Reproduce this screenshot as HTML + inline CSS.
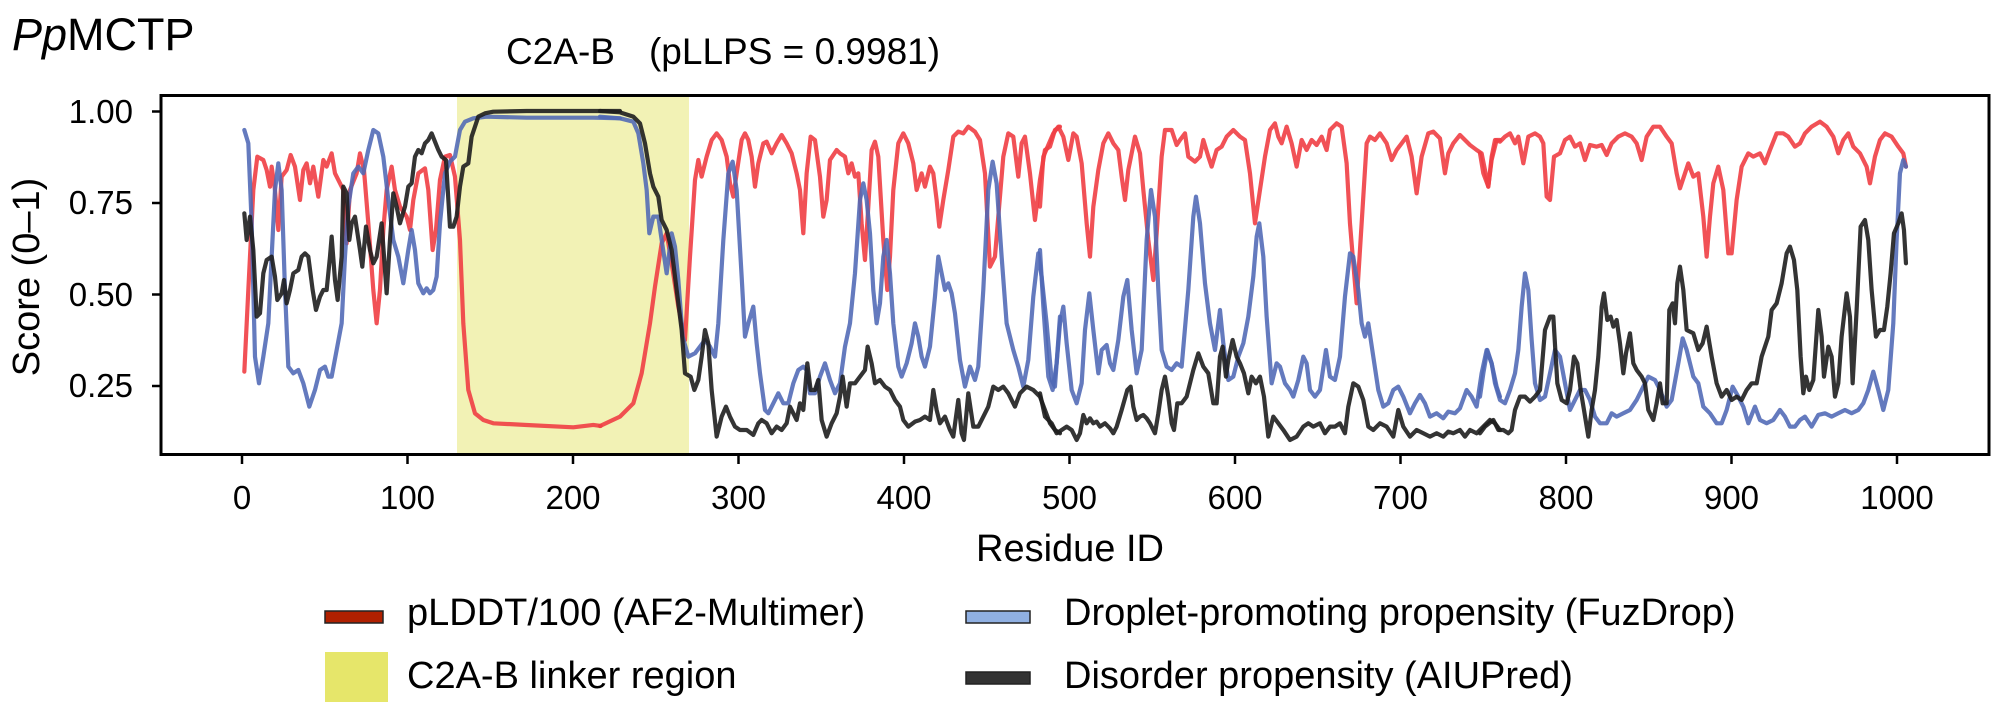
<!DOCTYPE html>
<html><head><meta charset="utf-8"><style>
html,body{margin:0;padding:0;background:#fff;}
svg{display:block;font-family:"Liberation Sans",Arial,sans-serif;}
.l{fill:none;stroke-width:4.2;stroke-linejoin:round;stroke-linecap:round;vector-effect:non-scaling-stroke;}
</style></head><body>
<svg width="2000" height="716" viewBox="0 0 2000 716" xmlns="http://www.w3.org/2000/svg">
<text x="12" y="50" font-size="45"><tspan font-style="italic">Pp</tspan>MCTP</text>
<text x="506" y="64" font-size="37">C2A-B<tspan dx="34">(pLLPS = 0.9981)</tspan></text>
<rect x="457" y="96" width="232" height="358" fill="#f2f2b5"/>
<defs><clipPath id="c"><rect x="162" y="96" width="1827" height="358"/></clipPath></defs>
<g clip-path="url(#c)">
<!-- red -->
<g transform="translate(160,90) scale(0.3333)" ><polyline class="l" stroke="#ef3e44" stroke-opacity="0.9" points="253,845 265,600 280,300 292,200 310,210 320,240 330,290 335,230 345,300 355,420 365,260 380,240 392,195 405,230 420,330 430,240 440,220 450,280 460,230 475,320 490,210 500,230 515,190 525,250 535,270 550,300 560,460 570,300 590,250 600,190 612,240 625,400 640,600 650,700 660,600 670,420 680,300 695,230 705,300 720,350 740,380 750,420 760,330 775,250 795,235 805,300 818,480 828,420 840,270 855,200 870,195 885,260 900,450 910,700 925,900 945,970 970,990 1000,1000 1100,1005 1240,1012 1300,1005 1322,1008"/></g>
<g transform="translate(600,90) scale(0.3333)"><polyline class="l" stroke="#ef3e44" stroke-opacity="0.9" points="0,1008 60,980 100,940 125,850 150,700 165,590 185,460 200,430 215,520 235,650 255,750 270,500 285,270 295,210 305,260 320,200 335,150 350,130 365,150 380,200 390,280 400,320 410,250 425,150 435,130 445,150 455,200 465,290 475,220 490,160 500,155 515,190 530,160 545,135 560,160 575,190 590,250 600,300 610,430 620,250 632,140 645,150 660,260 670,380 680,330 690,210 710,180 720,190 735,200 745,250 755,220 765,260 775,250 785,400 795,510 805,350 815,180 825,155 835,200 850,450 862,600 870,500 880,300 895,160 910,130 925,160 940,220 950,300 965,250 975,290 990,230 1000,250 1010,330 1018,410 1030,330 1045,240 1060,140 1075,125 1090,130 1105,110 1125,125 1140,150 1155,250 1170,530 1185,500 1195,380 1210,200 1225,130 1240,140 1255,260 1265,160 1275,140 1290,250 1305,390 1320,270 1335,180 1350,170 1365,120 1380,110"/></g>
<g transform="translate(1040,90) scale(0.3333)"><polyline class="l" stroke="#ef3e44" stroke-opacity="0.9" points="0,350 10,200 25,165 40,130 55,110 70,140 85,210 100,130 110,140 125,220 140,400 150,500 160,350 175,240 190,160 205,130 220,160 235,180 245,260 255,330 265,240 285,140 300,190 310,300 325,450 340,570 350,430 365,200 375,120 395,120 410,165 420,150 435,130 445,200 465,215 480,200 490,150 505,200 515,230 530,180 545,170 560,140 580,120 600,140 615,150 630,250 645,400 660,300 675,200 690,120 705,100 715,140 725,160 740,110 755,160 770,230 785,150 800,180 815,150 830,165 845,140 860,180 870,120 890,100 905,110 920,220 930,400 950,640 965,400 980,160 990,140 1005,150 1020,130 1040,160 1055,210 1070,180 1085,160 1100,140 1115,200 1130,310 1145,200 1165,130 1180,125 1200,145 1215,250 1225,190 1240,160 1260,135 1275,150 1290,165 1310,180 1325,190 1345,290 1355,210 1370,150 1380,150"/></g>
<g transform="translate(1480,90) scale(0.3333)"><polyline class="l" stroke="#ef3e44" stroke-opacity="0.9" points="0,190 10,250 25,290 35,200 45,150 60,155 75,140 90,130 105,160 115,140 130,220 145,140 165,130 180,140 190,160 200,320 210,330 222,200 240,190 255,150 270,140 285,170 300,160 315,210 330,165 350,170 365,165 380,195 395,160 415,140 435,130 455,140 470,160 485,210 500,140 520,110 540,110 560,140 575,160 590,250 600,295 615,250 625,220 640,260 655,250 670,380 680,500 690,380 700,280 715,230 730,300 745,490 755,490 770,330 785,230 805,190 820,200 840,190 855,220 870,180 890,130 910,130 925,140 945,170 960,160 975,130 995,110 1020,95 1040,110 1060,140 1075,190 1090,150 1105,130 1120,170 1140,190 1160,230 1170,280 1185,200 1200,150 1215,130 1235,140 1255,170 1270,190 1278,230"/></g>
<!-- blue -->
<g transform="translate(160,90) scale(0.3333)"><polyline class="l" stroke="#4e68b5" stroke-opacity="0.88" points="253,120 265,160 275,400 285,800 297,880 310,800 325,700 335,500 345,300 355,220 365,300 375,600 385,830 400,850 415,840 430,880 448,950 465,900 480,840 495,830 505,860 515,860 530,780 545,700 555,500 565,350 580,250 595,230 610,250 625,180 640,120 655,130 670,200 685,330 700,450 715,500 730,580 745,480 755,420 765,480 775,580 790,610 800,595 810,610 820,600 830,560 840,400 855,250 870,215 885,200 900,120 915,95 940,85 980,80 1100,83 1300,83 1380,85"/></g>
<g transform="translate(600,90) scale(0.3333)"><polyline class="l" stroke="#4e68b5" stroke-opacity="0.88" points="0,80 60,85 100,95 115,130 130,220 140,300 148,430 160,380 175,380 185,450 200,550 215,430 225,470 235,570 248,740 265,800 285,790 300,770 315,750 330,770 345,800 355,700 370,450 385,250 398,215 410,300 425,560 435,740 445,700 460,650 470,760 480,850 495,960 505,970 520,940 535,910 550,940 565,940 580,880 595,840 610,830 620,840 630,910 645,910 660,860 675,820 690,870 705,910 720,880 735,770 750,700 765,550 780,330 790,280 800,330 810,430 820,600 830,700 840,640 850,500 860,450 870,550 880,700 895,830 905,860 920,820 935,760 945,700 955,740 965,800 975,830 990,770 1005,620 1015,500 1025,550 1035,600 1045,580 1055,610 1065,670 1080,810 1095,890 1110,830 1125,870 1135,830 1150,600 1165,300 1178,215 1190,280 1205,500 1220,700 1240,780 1255,830 1270,890 1285,810 1300,620 1315,490 1325,560 1340,700 1355,870 1365,890 1380,680"/></g>
<g transform="translate(1040,90) scale(0.3333)"><polyline class="l" stroke="#4e68b5" stroke-opacity="0.88" points="0,480 10,650 25,860 38,900 50,820 60,700 70,650 80,760 95,900 110,940 125,880 135,720 148,610 160,720 175,850 185,780 200,765 210,820 220,840 235,750 250,620 262,570 275,720 290,850 305,780 320,450 333,300 345,380 355,600 365,780 380,830 395,840 410,820 425,830 445,600 460,380 468,320 480,400 495,580 510,700 525,780 540,660 550,760 565,870 580,860 595,800 610,760 625,680 640,560 650,440 658,400 670,500 680,680 695,880 710,820 720,830 735,880 750,900 760,920 775,870 790,800 800,820 810,900 825,920 840,900 858,780 870,860 885,870 900,800 915,620 930,490 940,500 955,600 965,700 975,740 985,700 1000,800 1015,900 1030,950 1045,940 1060,900 1075,890 1090,920 1110,970 1125,940 1140,915 1155,940 1170,980 1190,970 1210,985 1225,965 1245,970 1260,955 1280,900 1295,920 1310,950 1325,850 1340,780 1355,820 1370,890 1380,920"/></g>
<g transform="translate(1480,90) scale(0.3333)"><polyline class="l" stroke="#4e68b5" stroke-opacity="0.88" points="0,920 10,850 22,780 35,820 45,880 60,930 75,940 90,900 105,850 115,780 125,650 135,550 145,600 155,750 165,880 180,930 195,920 210,850 225,780 240,800 255,880 270,960 285,930 300,900 315,900 330,930 345,980 360,1000 380,1000 395,970 410,980 430,970 450,960 470,930 485,900 505,860 525,870 540,900 560,950 575,930 595,820 608,745 620,780 640,860 655,880 670,950 690,970 710,1000 725,1000 740,960 758,890 775,920 790,950 805,1000 825,950 840,990 860,1000 880,990 900,960 915,980 930,1010 945,1010 960,990 975,980 995,1010 1015,975 1035,970 1055,980 1075,970 1095,960 1115,970 1135,960 1150,940 1165,900 1180,845 1195,900 1210,960 1225,900 1240,700 1250,450 1260,250 1270,210 1278,230"/></g>
<!-- black -->
<g transform="translate(160,90) scale(0.3333)"><polyline class="l" stroke="#1e1e1e" stroke-opacity="0.9" points="253,370 260,450 270,380 280,480 290,680 300,670 310,550 320,510 335,500 345,560 352,630 365,610 372,570 380,640 390,600 400,550 415,540 425,500 435,490 445,500 458,600 468,660 480,620 490,600 500,600 510,500 515,440 525,570 533,630 545,500 550,290 560,310 568,450 575,400 585,380 600,480 607,530 618,410 630,480 640,520 650,500 665,400 680,610 690,450 700,310 710,350 720,400 735,350 745,290 755,280 765,200 775,180 785,190 795,160 805,150 815,130 825,155 835,180 845,200 858,210 870,410 880,410 890,380 900,290 910,230 925,220 935,140 945,110 955,80 975,70 1000,65 1100,63 1300,63 1380,63"/></g>
<g transform="translate(600,90) scale(0.3333)"><polyline class="l" stroke="#1e1e1e" stroke-opacity="0.9" points="0,63 60,67 100,80 120,100 135,160 150,250 160,290 175,320 185,390 200,420 215,480 230,600 245,720 255,850 272,860 283,900 295,870 305,800 315,720 325,760 335,900 350,1040 365,980 378,950 390,980 405,1010 420,1020 440,1020 460,1035 475,1000 485,990 500,1000 515,1030 530,1010 545,1020 560,1000 570,950 580,970 590,990 600,940 610,960 622,820 632,900 645,900 655,870 665,990 680,1040 695,1000 710,970 720,920 728,860 740,950 750,880 765,880 780,860 795,840 803,770 815,820 825,880 840,870 855,890 870,900 885,930 900,950 910,990 925,1010 945,995 960,990 975,980 990,990 1000,900 1010,960 1020,1000 1035,980 1050,1020 1060,1040 1075,930 1085,1030 1092,1050 1105,910 1120,1010 1135,1010 1150,980 1165,950 1180,890 1195,900 1210,890 1225,910 1245,950 1260,910 1280,890 1300,900 1320,920 1335,960 1350,1000 1365,1020 1380,1030"/></g>
<g transform="translate(1040,90) scale(0.3333)"><polyline class="l" stroke="#1e1e1e" stroke-opacity="0.9" points="0,910 15,980 35,1000 50,1030 65,1020 80,1010 95,1020 110,1050 120,1030 130,975 140,1000 150,985 160,1000 170,995 180,1010 195,1000 210,1015 220,1030 230,1010 245,960 262,900 272,890 280,950 290,990 300,980 310,975 320,985 330,1000 345,1030 355,970 365,900 375,860 385,920 395,1000 402,1020 412,940 425,940 440,920 460,840 475,790 490,830 505,850 520,940 530,940 540,800 548,770 558,860 565,810 578,750 590,800 600,820 612,850 625,910 635,860 648,880 660,860 672,920 685,1040 700,980 715,1000 730,1020 750,1050 770,1040 790,1010 805,1000 820,1010 840,1000 855,1030 870,1010 885,1010 900,1000 915,1030 925,950 940,880 955,890 970,930 985,1010 1000,1020 1020,1000 1040,1010 1060,1040 1075,960 1090,1010 1110,1040 1130,1020 1150,1030 1170,1040 1190,1030 1210,1040 1225,1025 1240,1030 1260,1020 1275,1040 1290,1020 1310,1030 1330,1010 1350,990 1365,1000 1380,1020"/></g>
<g transform="translate(1480,90) scale(0.3333)"><polyline class="l" stroke="#1e1e1e" stroke-opacity="0.9" points="0,1030 15,1010 40,990 55,1020 70,1020 85,1030 95,1020 105,960 120,920 135,920 150,935 165,920 180,900 195,720 210,680 220,680 232,880 245,930 260,940 270,900 282,800 292,820 302,900 312,960 325,1040 335,960 345,900 355,800 365,650 372,610 382,690 392,680 400,710 410,690 420,760 430,850 438,790 450,730 460,820 470,840 485,860 495,880 505,960 520,990 530,940 540,880 548,940 560,940 568,660 578,640 585,700 592,580 600,530 610,600 620,720 640,730 655,780 668,760 680,710 695,800 710,880 725,920 740,900 755,930 770,920 785,930 800,900 815,880 830,880 845,800 855,770 865,740 875,660 890,640 905,580 920,490 930,470 942,510 952,600 962,800 970,910 978,860 988,900 1000,870 1015,660 1025,740 1032,860 1045,770 1055,800 1065,920 1075,880 1085,740 1100,610 1110,680 1118,880 1130,660 1142,410 1155,390 1165,450 1175,600 1188,740 1200,720 1212,720 1222,650 1232,550 1242,430 1255,400 1265,370 1272,420 1278,520"/></g>
</g>
<rect x="161" y="95.5" width="1828" height="359" fill="none" stroke="#000" stroke-width="3"/>
<g stroke="#000" stroke-width="2.5">
<line x1="152" y1="111.5" x2="161" y2="111.5"/><line x1="152" y1="203" x2="161" y2="203"/><line x1="152" y1="294.5" x2="161" y2="294.5"/><line x1="152" y1="386" x2="161" y2="386"/>
<line x1="242" y1="455" x2="242" y2="464"/><line x1="407.5" y1="455" x2="407.5" y2="464"/><line x1="573" y1="455" x2="573" y2="464"/><line x1="738.5" y1="455" x2="738.5" y2="464"/><line x1="904" y1="455" x2="904" y2="464"/><line x1="1069.5" y1="455" x2="1069.5" y2="464"/><line x1="1235" y1="455" x2="1235" y2="464"/><line x1="1400.5" y1="455" x2="1400.5" y2="464"/><line x1="1566" y1="455" x2="1566" y2="464"/><line x1="1731.5" y1="455" x2="1731.5" y2="464"/><line x1="1897" y1="455" x2="1897" y2="464"/>
</g>
<g font-size="33" text-anchor="end">
<text x="133" y="123">1.00</text><text x="133" y="214">0.75</text><text x="133" y="306">0.50</text><text x="133" y="397">0.25</text>
</g>
<g font-size="33" text-anchor="middle">
<text x="242" y="509">0</text><text x="407.5" y="509">100</text><text x="573" y="509">200</text><text x="738.5" y="509">300</text><text x="904" y="509">400</text><text x="1069.5" y="509">500</text><text x="1235" y="509">600</text><text x="1400.5" y="509">700</text><text x="1566" y="509">800</text><text x="1731.5" y="509">900</text><text x="1897" y="509">1000</text>
</g>
<text x="1070" y="561" font-size="38" text-anchor="middle">Residue ID</text>
<text transform="translate(39,277) rotate(-90)" font-size="38" text-anchor="middle">Score (0–1)</text>
<rect x="325" y="611" width="58" height="12" fill="#b02000" stroke="#222" stroke-width="1.5"/>
<text x="407" y="625" font-size="38">pLDDT/100 (AF2-Multimer)</text>
<rect x="325" y="652" width="63" height="50" fill="#e6e66a"/>
<text x="407" y="688" font-size="38">C2A-B linker region</text>
<rect x="966" y="611" width="64" height="12" fill="#90b0e2" stroke="#222" stroke-width="1.5"/>
<text x="1064" y="625" font-size="38">Droplet-promoting propensity (FuzDrop)</text>
<rect x="966" y="672" width="64" height="12" fill="#333" stroke="#222" stroke-width="1.5"/>
<text x="1064" y="688" font-size="38">Disorder propensity (AIUPred)</text>
</svg>
</body></html>
